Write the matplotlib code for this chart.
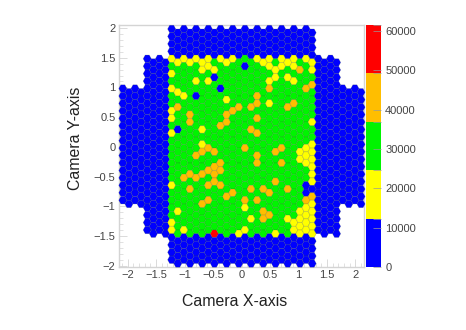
import matplotlib
matplotlib.use("Agg")
import matplotlib.pyplot as plt
import numpy as np
from matplotlib.collections import PolyCollection
from matplotlib.colors import ListedColormap, BoundaryNorm
from matplotlib.ticker import MultipleLocator

plt.rcParams['font.family'] = ['Liberation Sans', 'DejaVu Sans']

# camera layout: (first column, last column, first row, last row)
camera_blocks = [(-20, -17, 8, 23), (-16, -13, 4, 27), (-12, 11, 0, 31), (12, 15, 4, 27), (16, 19, 8, 23)]

low_counts = 6000
base_counts = 26000
level_values = {'yellow': 18000, 'orange': 42000, 'red': 55000}

yellow_cells = [(-12,4),(-11,4),(-10,4),(-9,4),(-8,4),(-7,4),(-6,4),(-4,4),(-3,4),(-2,4),(-7,5),(-6,5),(-5,5),
    (-12,6),(-8,7),(-6,7),(-12,8),(-11,8),(-10,9),(-3,9),(-12,11),(-12,12),(-7,13),(-12,14),(-7,15),
    (2,4),(3,4),(4,4),(4,5),(6,4),(6,5),(7,4),(8,4),(8,5),(10,4),(11,4),(11,5),(5,5),(5,6),(4,7),(7,6),(8,7),(4,10),(11,12),
    (-12,21),(-11,24),(-12,26),(-12,27),(-10,27),
    (10,16),(9,16),(11,15),(10,17),(11,16),(9,17),(11,17),(10,18),(11,18),(11,19),(11,20),
    (0,24),(1,25),(7,25),(11,23),(10,24),(9,24),(9,25),(8,26),(10,25),(11,24),(11,25),(9,26),(10,26),(11,26),
    (8,27),(10,27),(11,27),(-1,27),(0,27),(5,27),(9,27)]
orange_cells = [(-11,10),(-9,11),(-9,12),(-4,13),(-3,12),(-3,11),(-2,11),(-1,10),
    (9,5),(11,7),(10,8),(4,8),(2,9),(2,10),(1,10),(8,10),(7,10),(2,12),(1,13),(2,14),
    (-6,16),(-7,16),(-5,16),(-8,17),(-4,18),(-5,18),(-6,19),(-4,19),(-7,19),(-5,19),(-9,19),(-8,20),(-10,20),
    (-6,21),(-5,20),(-4,21),(-9,21),(-2,22),(-3,22),(-6,23),(-7,23),
    (0,16),(5,16),(6,16),(2,17),(2,18),(6,18),(5,20),(1,21),(3,21),(4,22),(7,21),(0,23),(2,23),(10,23),(11,22),
    (3,24),(4,25),(3,25)]
blue_cells = [(-5,6),(-4,8),(-8,9),(-11,13),(0,5),(10,21),(10,22),(11,21)]
red_cells = [(-5,27)]

bounds = [0, 12296, 24592, 36888, 49184, 61480]
colors = ['#0000ff', '#ffff00', '#00f400', '#ffbe00', '#ff0000']
xticks_major = [-2, -1.5, -1, -0.5, 0, 0.5, 1, 1.5, 2]
yticks_major = [-2, -1.5, -1, -0.5, 0, 0.5, 1, 1.5, 2]
tick_labels = ['\u22122', '\u22121.5', '\u22121', '\u22120.5', '0', '0.5', '1', '1.5', '2']
cbar_ticks = [0, 10000, 20000, 30000, 40000, 50000, 60000]

W, H = 466, 330
fig = plt.figure(figsize=(W / 100, H / 100), dpi=100)
ax = fig.add_axes([119 / W, 1 - 267 / H, (364 - 119) / W, (267 - 25) / H])
ax.set_xlim(-2.15, 2.15)
ax.set_ylim(-2.02, 2.05)

dx, dy = 6.11 / 57, 7.45 / 59.5
x0, y0 = 0.061, 1.983
verts, vals = [], []
lookup = {c: low_counts for c in blue_cells}
lookup.update({c: level_values['yellow'] for c in yellow_cells})
lookup.update({c: level_values['orange'] for c in orange_cells})
lookup.update({c: level_values['red'] for c in red_cells})
rx = dx / 1.5
hx = np.array([rx, rx / 2, -rx / 2, -rx, -rx / 2, rx / 2])
hy = np.array([0, dy / 2, dy / 2, 0, -dy / 2, -dy / 2])
for k0, k1, j0, j1 in camera_blocks:
    for k in range(k0, k1 + 1):
        for j in range(j0, j1 + 1):
            cx = x0 + k * dx
            cy = y0 - (j + (0.5 if k % 2 else 0)) * dy
            verts.append(list(zip(cx + hx, cy + hy)))
            if (k, j) in lookup:
                v = lookup[(k, j)]
            elif -12 <= k <= 11 and 4 <= j <= 27:
                v = base_counts
            else:
                v = low_counts
            vals.append(v)

cmap = ListedColormap(colors)
norm = BoundaryNorm(bounds, cmap.N)
pc = PolyCollection(verts, array=np.array(vals), cmap=cmap, norm=norm,
                    edgecolors=(0.2, 0.3, 0.2, 0.28), linewidths=0.45, clip_on=False, zorder=3)
ax.add_collection(pc)

gray = '#d4d4d4'
txt = '#444444'
for sp in ax.spines.values():
    sp.set_color(gray)
    sp.set_linewidth(1.0)
ax.set_xticks(xticks_major)
ax.set_xticklabels(tick_labels)
ax.set_yticks(yticks_major)
ax.set_yticklabels(tick_labels)
ax.xaxis.set_minor_locator(MultipleLocator(0.1))
ax.yaxis.set_minor_locator(MultipleLocator(0.1))
ax.tick_params(which='major', direction='in', length=6, width=0.6, color=gray, labelsize=8, labelcolor=txt, pad=2.5)
ax.tick_params(which='minor', direction='in', length=3, width=0.5, color=gray)
fig.text(235 / W, 1 - 302 / H, 'Camera X-axis', fontsize=11.4, color='#222222', ha='center', va='center')
fig.text(75 / W, 1 - 138 / H, 'Camera Y-axis', fontsize=11.4, color='#222222', ha='center', va='center', rotation=90)

cax = fig.add_axes([366 / W, 1 - 267 / H, 15 / W, (267 - 25) / H])
cb = fig.colorbar(pc, cax=cax, ticks=cbar_ticks, spacing='proportional')
cb.outline.set_visible(False)
cax.tick_params(which='both', direction='in', length=6, width=0.5, color='#999999', labelsize=8, labelcolor=txt, pad=3, labelright=True)

fig.savefig('out.png', dpi=100)
